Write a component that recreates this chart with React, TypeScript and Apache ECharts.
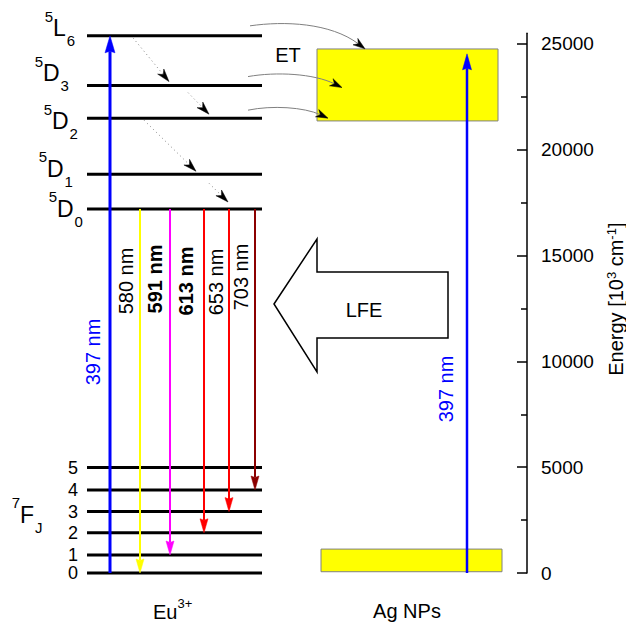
import React, { useEffect, useRef } from 'react';
import * as echarts from 'echarts';

const FONT = '"Liberation Sans", Arial, Helvetica, sans-serif';

// ---------------- data ----------------
// Eu3+ excited levels (cm^-1)
const upperLevelSup = ['5', '5', '5', '5', '5'];
const upperLevelMain = ['L', 'D', 'D', 'D', 'D'];
const upperLevelSub = ['6', '3', '2', '1', '0'];
const upperLevelEnergy = [25380, 23030, 21490, 18840, 17200];
// 7F_J manifold (cm^-1)
const groundLevelJ = ['5', '4', '3', '2', '1', '0'];
const groundLevelEnergy = [4980, 3920, 2900, 1900, 850, 0];

// emissions from 5D0 to 7F_J
const emissionLabels = ['580 nm', '591 nm', '613 nm', '653 nm', '703 nm'];
const emissionTargetJ = [0, 1, 2, 3, 4];
const emissionBold = [false, true, true, false, false];
const emissionColors = ['#ffff00', '#ff00ff', '#ff0000', '#ff0000', '#8b0000'];

// excitation
const excitationLabel = '397 nm';
const euExcitationTop = 25380;
const agExcitationTop = 24530;

// Ag NPs bands (cm^-1)
const agBandLow = [60, 1130];
const agBandHigh = [21360, 24760];

// non-radiative relaxation (upper level indices)
const relaxFrom = [0, 1, 2, 3];
const relaxTo = [1, 2, 3, 4];
// energy transfer sources (upper level indices)
const etFrom = [0, 1, 2];

// axis
const yTicks = [0, 5000, 10000, 15000, 20000, 25000];
const yMinorTicks = [2500, 7500, 12500, 17500, 22500];
const yMax = 25500;

// ---------------- layout ----------------
const L = {
  euX: [87, 262],
  agHighX: [317, 498],
  agLowX: [321, 502],
  euExcX: 110,
  agExcX: 467,
  emissionX: [140, 170, 204, 229, 255],
  emissionLabelDx: [-14, -15, -18, -13, -14],
  emissionLabelDy: [72, 70, 72, 73, 68],
  upperLabelX: [53, 43, 52, 47, 57],
  upperLabelDy: [-7.5, -12.5, 3, -5.5, 0],
  relaxX1: [133, 188, 144, 209],
  relaxX2: [169, 209, 196, 228],
  relaxGap1: [2, 7, 2, 9],
  relaxGap2: [-4, -4, -3, -7],
  etX1: [250, 248, 248],
  etX2: [365, 342, 328],
  etDy1: [-10, -9, -8],
  etDy2: [13, 2, 0],
};

const measure = (() => {
  const ctx = document.createElement('canvas').getContext('2d');
  return (text: string, font: string) => {
    if (!ctx) return text.length * 12;
    ctx.font = font;
    return ctx.measureText(text).width;
  };
})();

function txt(text: string, x: number, y: number, size: number, align: string, opts: any = {}) {
  const style: any = {
    text,
    fontSize: size,
    fontFamily: FONT,
    fontWeight: opts.bold ? 'bold' : 'normal',
    fill: opts.color || '#000',
    align,
    verticalAlign: 'middle',
  };
  if (opts.lineHeight) style.lineHeight = opts.lineHeight;
  return {
    type: 'text',
    x,
    y,
    rotation: opts.rotation || 0,
    style,
  };
}

function head(tip: number[], from: number[], len: number, width: number, notch: number, fill: string) {
  const dx = tip[0] - from[0];
  const dy = tip[1] - from[1];
  const d = Math.hypot(dx, dy) || 1;
  const ux = dx / d, uy = dy / d;
  const px = -uy, py = ux;
  const bx = tip[0] - ux * len, by = tip[1] - uy * len;
  const nx = tip[0] - ux * len * notch, ny = tip[1] - uy * len * notch;
  return {
    poly: {
      type: 'polygon',
      shape: { points: [tip, [bx + (px * width) / 2, by + (py * width) / 2], [nx, ny], [bx - (px * width) / 2, by - (py * width) / 2]] },
      style: { fill, stroke: fill, lineWidth: 0.5 },
    },
    base: [nx, ny],
  };
}

const allLevelEnergy = [...upperLevelEnergy, ...groundLevelEnergy];

const option: any = {
  animation: false,
  backgroundColor: '#ffffff',
  textStyle: { fontFamily: FONT },
  grid: { left: 0, right: 99, top: 33.3, bottom: 49, outerBoundsMode: 'none', containLabel: false },
  xAxis: { type: 'value', min: 0, max: 527, show: false },
  yAxis: [
    {
      type: 'value',
      position: 'right',
      min: 0,
      max: yMax,
      axisLine: { show: true, onZero: false, lineStyle: { color: '#000', width: 1.5 } },
      axisTick: { show: true, inside: true, length: 10, lineStyle: { color: '#000', width: 1.5 }, customValues: yTicks },
      axisLabel: {
        show: true,
        customValues: yTicks,
        color: '#000',
        fontSize: 19,
        fontFamily: FONT,
        margin: 14,
        formatter: (v: number) => String(v),
      },
      splitLine: { show: false },
      name: '{a|Energy [10}{s|3}{a| cm}{s|-1}{a|]}',
      nameLocation: 'middle',
      nameRotate: 90,
      nameGap: 72,
      nameTextStyle: {
        color: '#000',
        fontFamily: FONT,
        fontSize: 20,
        padding: [0, 0, 0, 8],
        rich: {
          a: { fontSize: 20, fontFamily: FONT, color: '#000', lineHeight: 22 },
          s: { fontSize: 13, fontFamily: FONT, color: '#000', lineHeight: 13, verticalAlign: 'top' },
        },
      },
    },
    {
      type: 'value',
      position: 'right',
      min: 0,
      max: yMax,
      axisLine: { show: false, onZero: false },
      axisTick: { show: true, inside: true, length: 6, lineStyle: { color: '#000', width: 1.5 }, customValues: yMinorTicks },
      axisLabel: { show: false },
      splitLine: { show: false },
    },
  ],
  graphic: [
    {
      type: 'polygon',
      shape: { points: [[274, 304], [317, 239], [317, 272], [448, 272], [448, 338], [317, 338], [317, 372]] },
      style: { fill: '#fff', stroke: '#000', lineWidth: 1.5 },
    },
    { type: 'text', x: 364, y: 310, style: { text: 'LFE', fontSize: 20, fontFamily: FONT, fill: '#000', align: 'center', verticalAlign: 'middle' } },
    { type: 'text', x: 288, y: 55, style: { text: 'ET', fontSize: 20, fontFamily: FONT, fill: '#000', align: 'center', verticalAlign: 'middle' } },
    { type: 'text', x: 153, y: 612, style: { text: 'Eu', fontSize: 20, fontFamily: FONT, fill: '#000', align: 'left', verticalAlign: 'middle' } },
    { type: 'text', x: 177.5, y: 603, style: { text: '3+', fontSize: 13, fontFamily: FONT, fill: '#000', align: 'left', verticalAlign: 'middle' } },
    { type: 'text', x: 407, y: 611, style: { text: 'Ag NPs', fontSize: 20, fontFamily: FONT, fill: '#000', align: 'center', verticalAlign: 'middle' } },
  ],
  series: [
    // Ag bands
    {
      type: 'custom',
      silent: true,
      data: [
        [L.agLowX[0], L.agLowX[1], agBandLow[0], agBandLow[1]],
        [L.agHighX[0], L.agHighX[1], agBandHigh[0], agBandHigh[1]],
      ],
      encode: { x: [0, 1], y: [2, 3] },
      renderItem: (params: any, api: any) => {
        const a = api.coord([api.value(0), api.value(2)]);
        const b = api.coord([api.value(1), api.value(3)]);
        return {
          type: 'rect',
          shape: { x: a[0], y: b[1], width: b[0] - a[0], height: a[1] - b[1] },
          style: { fill: '#ffff00', stroke: '#808080', lineWidth: 1 },
        };
      },
    },
    // Eu levels
    {
      type: 'custom',
      silent: true,
      data: allLevelEnergy.map((e) => [L.euX[0], L.euX[1], e]),
      encode: { x: [0, 1], y: 2 },
      renderItem: (params: any, api: any) => {
        const i = params.dataIndex;
        const e = api.value(2);
        const a = api.coord([api.value(0), e]);
        const b = api.coord([api.value(1), e]);
        const children: any[] = [
          { type: 'line', shape: { x1: a[0], y1: a[1], x2: b[0], y2: b[1] }, style: { stroke: '#000', lineWidth: 3 } },
        ];
        if (i < upperLevelEnergy.length) {
          const mx = L.upperLabelX[i];
          const cy = a[1] + L.upperLabelDy[i];
          const w = measure(upperLevelMain[i], `23px ${FONT}`);
          children.push(txt(upperLevelSup[i], mx, cy - 12, 15, 'right'));
          children.push(txt(upperLevelMain[i], mx, cy, 23, 'left'));
          children.push(txt(upperLevelSub[i], mx + w + 1, cy + 12.5, 15, 'left'));
        } else {
          const j = i - upperLevelEnergy.length;
          children.push(txt(groundLevelJ[j], 78, a[1], 18, 'right', { lineHeight: 15 }));
          if (j === 2) {
            const cy = a[1] + 3;
            const w = measure('F', `23px ${FONT}`);
            children.push(txt('7', 20, cy - 12, 15, 'right'));
            children.push(txt('F', 20, cy, 23, 'left'));
            children.push(txt('J', 20 + w + 1, cy + 12.5, 15, 'left'));
          }
        }
        return { type: 'group', children };
      },
    },
    // non-radiative relaxation (dotted)
    {
      type: 'custom',
      silent: true,
      data: relaxFrom.map((f, k) => [L.relaxX1[k], upperLevelEnergy[f], L.relaxX2[k], upperLevelEnergy[relaxTo[k]]]),
      encode: { x: [0, 2], y: [1, 3] },
      renderItem: (params: any, api: any) => {
        const k = params.dataIndex;
        const p0 = api.coord([api.value(0), api.value(1)]);
        const p1 = api.coord([api.value(2), api.value(3)]);
        const s = [p0[0], p0[1] + L.relaxGap1[k]];
        const t = [p1[0], p1[1] + L.relaxGap2[k]];
        const h = head(t, s, 13, 8, 0.7, '#000');
        return {
          type: 'group',
          children: [
            { type: 'line', shape: { x1: s[0], y1: s[1], x2: h.base[0], y2: h.base[1] }, style: { stroke: '#999', lineWidth: 1, lineDash: [1.2, 3] } },
            h.poly,
          ],
        };
      },
    },
    // energy transfer curves
    {
      type: 'custom',
      silent: true,
      data: etFrom.map((f, k) => [L.etX1[k], upperLevelEnergy[f], L.etX2[k]]),
      encode: { x: [0, 2], y: 1 },
      renderItem: (params: any, api: any) => {
        const k = params.dataIndex;
        const p = api.coord([api.value(0), api.value(1)]);
        const q = api.coord([api.value(2), api.value(1)]);
        const x1 = p[0], y1 = p[1] + L.etDy1[k];
        const x2 = q[0], y2 = q[1] + L.etDy2[k];
        const dx = x2 - x1;
        const c1 = [x1 + 0.3 * dx, y1 - 5];
        const c2 = [x1 + 0.7 * dx, y1 - 3];
        const h = head([x2, y2], c2, 12, 8, 0.7, '#000');
        return {
          type: 'group',
          children: [
            {
              type: 'bezierCurve',
              shape: { x1, y1, cpx1: c1[0], cpy1: c1[1], cpx2: c2[0], cpy2: c2[1], x2: h.base[0], y2: h.base[1] },
              style: { stroke: '#808080', lineWidth: 1, fill: 'none' },
            },
            h.poly,
          ],
        };
      },
    },
    // emissions
    {
      type: 'custom',
      silent: true,
      data: emissionLabels.map((_, k) => [L.emissionX[k], upperLevelEnergy[4], groundLevelEnergy[groundLevelEnergy.length - 1 - emissionTargetJ[k]]]),
      encode: { x: 0, y: [1, 2] },
      renderItem: (params: any, api: any) => {
        const k = params.dataIndex;
        const p0 = api.coord([api.value(0), api.value(1)]);
        const p1 = api.coord([api.value(0), api.value(2)]);
        const col = emissionColors[k];
        const h = head(p1, p0, 14, 8, 0.9, col);
        return {
          type: 'group',
          children: [
            { type: 'line', shape: { x1: p0[0], y1: p0[1], x2: h.base[0], y2: h.base[1] }, style: { stroke: col, lineWidth: 2 } },
            h.poly,
            txt(emissionLabels[k], p0[0] + L.emissionLabelDx[k], p0[1] + L.emissionLabelDy[k], 20, 'center', {
              rotation: Math.PI / 2,
              bold: emissionBold[k],
            }),
          ],
        };
      },
    },
    // excitations (397 nm)
    {
      type: 'custom',
      silent: true,
      data: [
        [L.euExcX, 0, euExcitationTop],
        [L.agExcX, 0, agExcitationTop],
      ],
      encode: { x: 0, y: [1, 2] },
      renderItem: (params: any, api: any) => {
        const k = params.dataIndex;
        const p0 = api.coord([api.value(0), api.value(1)]);
        const p1 = api.coord([api.value(0), api.value(2)]);
        const h = k === 0 ? head(p1, p0, 17, 10, 0.9, '#0000ff') : head(p1, p0, 16, 9, 0.9, '#0000ff');
        const lab = k === 0 ? [p0[0] - 17, p0[1] - 221] : [p0[0] - 21, p0[1] - 184];
        return {
          type: 'group',
          children: [
            { type: 'line', shape: { x1: p0[0], y1: p0[1], x2: h.base[0], y2: h.base[1] }, style: { stroke: '#0000ff', lineWidth: k === 0 ? 3 : 2.5 } },
            h.poly,
            txt(excitationLabel, lab[0], lab[1], 20, 'center', { rotation: Math.PI / 2, color: '#0000ff' }),
          ],
        };
      },
    },
  ],
};

export default function App() {
  const ref = useRef<HTMLDivElement>(null);
  useEffect(() => {
    if (!ref.current) return;
    const chart = echarts.init(ref.current, null, { renderer: 'svg' });
    chart.setOption(option);
    return () => chart.dispose();
  }, []);
  return (
    <div
      ref={ref}
      style={{ position: 'absolute', left: 0, top: 0, width: 626, height: 622, background: '#fff' }}
    />
  );
}
